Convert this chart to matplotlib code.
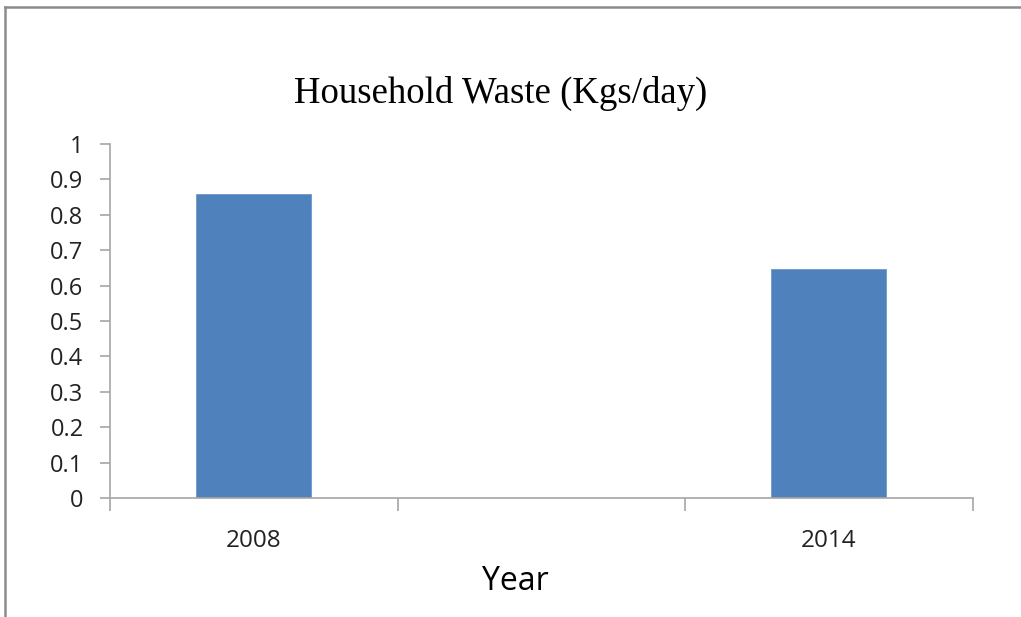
import numpy as np
import matplotlib
matplotlib.use('Agg')
import matplotlib.pyplot as plt
from matplotlib.lines import Line2D

years = ['2008', '', '2014']
waste = [0.858, np.nan, 0.648]
yticks = [0, 0.1, 0.2, 0.3, 0.4, 0.5, 0.6, 0.7, 0.8, 0.9, 1]

BAR = '#4f81bd'
AXIS = '#a6a6a6'
FRAME = '#8c8c8c'

plt.rcParams['font.family'] = ['Open Sans', 'DejaVu Sans']

fig = plt.figure(figsize=(10.21, 6.17), dpi=100)
ax = fig.add_axes([110 / 1021, 1 - 498 / 617, 862.5 / 1021, 354 / 617])

x = np.arange(len(years))
ax.bar(x, waste, width=0.4, color=BAR, edgecolor='#6f97cc', linewidth=0.6)

ax.set_xlim(-0.5, len(years) - 0.5)
ax.set_ylim(0, 1)

# category boundaries get the tick marks, labels sit in between
ax.set_xticks(np.arange(len(years) + 1) - 0.5)
ax.set_xticklabels([])
ax.set_xticks(x, minor=True)
ax.set_xticklabels(years, minor=True, fontsize=17.5, color='#222222')
ax.tick_params(axis='x', which='major', length=9, width=1.2, color=AXIS, direction='out')
ax.tick_params(axis='x', which='minor', length=0, pad=22)

ax.set_yticks(yticks)
ax.set_yticklabels([f'{v:g}' for v in yticks], fontsize=17, color='#222222')
ax.tick_params(axis='y', length=7, width=1.2, color=AXIS, direction='out', pad=12)

for side in ['top', 'right']:
    ax.spines[side].set_visible(False)
for side in ['left', 'bottom']:
    ax.spines[side].set_color(AXIS)
    ax.spines[side].set_linewidth(1.2)

ax.set_xlabel('Year', fontsize=23, va='center')
ax.xaxis.set_label_coords((515 - 110) / 862.5, -(582 - 498) / 354)

fig.text(501 / 1021, 1 - 102.5 / 617, 'Household Waste (Kgs/day)',
         family='Liberation Serif', fontsize=26.5, ha='center', va='baseline')

# outer chart frame, only left and top edges
fig.add_artist(Line2D([5 / 1021, 5 / 1021], [0, 1 - 7 / 617], transform=fig.transFigure,
                      color=FRAME, linewidth=1.8))
fig.add_artist(Line2D([5 / 1021, 1], [1 - 7 / 617, 1 - 7 / 617], transform=fig.transFigure,
                      color=FRAME, linewidth=1.8))

fig.savefig('out.png', dpi=100)
